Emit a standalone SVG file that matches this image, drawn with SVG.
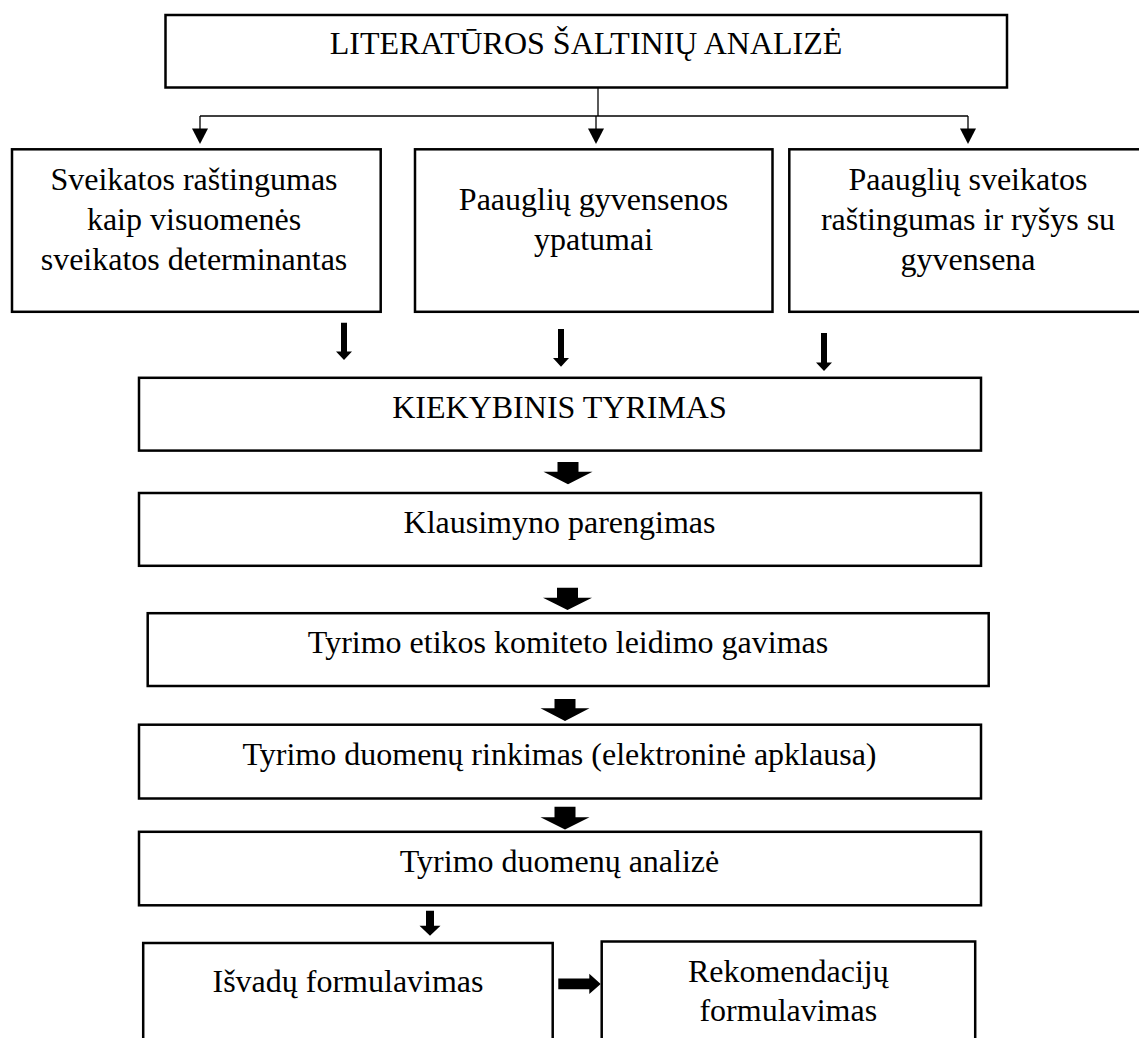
<svg xmlns="http://www.w3.org/2000/svg" width="1139" height="1038" viewBox="0 0 1139 1038">
<style>
  .box { fill: #fff; stroke: #000; stroke-width: 2.5; }
  .t { font-family: "Liberation Serif", "Times New Roman", serif; font-size: 32px; fill: #000; text-anchor: middle; }
  .ln { stroke: #000; stroke-width: 1.3; fill: none; }
  .ah { fill: #000; stroke: none; }
</style>
<rect width="1139" height="1038" fill="#fff"/>

<g id="connectors">
  <line class="ln" x1="598" y1="88" x2="598" y2="116"/>
  <line class="ln" x1="200" y1="116" x2="968" y2="116"/>
  <line class="ln" x1="200" y1="116" x2="200" y2="130"/>
  <polygon class="ah" points="192,128.5 208,128.5 200,144"/>
  <line class="ln" x1="596" y1="116" x2="596" y2="130"/>
  <polygon class="ah" points="588,128.5 604,128.5 596,144"/>
  <line class="ln" x1="968" y1="116" x2="968" y2="130"/>
  <polygon class="ah" points="960,128.5 976,128.5 968,144"/>

  <polygon class="ah" points="341,322.7 347,322.7 347,351.5 352,351.5 344,360 336,351.5 341,351.5"/>
  <polygon class="ah" points="558,329 564,329 564,358 569,358 561,366.7 553,358 558,358"/>
  <polygon class="ah" points="821,333 827,333 827,362.5 832,362.5 824,371 816,362.5 821,362.5"/>

  <polygon class="ah" points="557.5,462 578.5,462 578.5,471.7 592.5,471.7 568,484.3 543.5,471.7 557.5,471.7"/>
  <polygon class="ah" points="557,587.7 578,587.7 578,597.7 592,597.7 567.5,610 543,597.7 557,597.7"/>
  <polygon class="ah" points="554.5,699 575.5,699 575.5,708.3 589.5,708.3 565,721 540.5,708.3 554.5,708.3"/>
  <polygon class="ah" points="554.5,806.7 575.5,806.7 575.5,817.3 589.5,817.3 565,829.5 540.5,817.3 554.5,817.3"/>

  <polygon class="ah" points="426,910.7 434,910.7 434,925.7 440.5,925.7 430,935.7 419.5,925.7 426,925.7"/>
  <polygon class="ah" points="558.3,978.5 589.3,978.5 589.3,973.8 600.7,983.9 589.3,994 589.3,989.3 558.3,989.3"/>
</g>

<g id="n-literatura">
  <rect class="box" x="165.5" y="15" width="841.5" height="72.5"/>
  <text class="t" x="586" y="54">LITERATŪROS ŠALTINIŲ ANALIZĖ</text>
</g>

<g id="n-sveikatos-rastingumas">
  <rect class="box" x="12" y="149.3" width="368.7" height="162.5"/>
  <text class="t" x="194" y="190">Sveikatos raštingumas</text>
  <text class="t" x="194" y="230.3">kaip visuomenės</text>
  <text class="t" x="194" y="270">sveikatos determinantas</text>
</g>

<g id="n-gyvensenos">
  <rect class="box" x="415" y="149.3" width="357.5" height="162.5"/>
  <text class="t" x="593.5" y="210">Paauglių gyvensenos</text>
  <text class="t" x="593.5" y="250">ypatumai</text>
</g>

<g id="n-rysys">
  <rect class="box" x="789.3" y="149.3" width="400" height="162.5"/>
  <text class="t" x="968" y="190">Paauglių sveikatos</text>
  <text class="t" x="968" y="230.3">raštingumas ir ryšys su</text>
  <text class="t" x="968" y="270">gyvensena</text>
</g>

<g id="n-kiekybinis">
  <rect class="box" x="139" y="377.8" width="842" height="72.8"/>
  <text class="t" x="559.5" y="417.7">KIEKYBINIS TYRIMAS</text>
</g>

<g id="n-klausimyno">
  <rect class="box" x="139" y="493" width="842" height="72.8"/>
  <text class="t" x="559.5" y="532.7">Klausimyno parengimas</text>
</g>

<g id="n-etikos">
  <rect class="box" x="147.7" y="613.2" width="841" height="72.8"/>
  <text class="t" x="568" y="653.3">Tyrimo etikos komiteto leidimo gavimas</text>
</g>

<g id="n-rinkimas">
  <rect class="box" x="139" y="724.7" width="842" height="73.8"/>
  <text class="t" x="559.5" y="764.5">Tyrimo duomenų rinkimas (elektroninė apklausa)</text>
</g>

<g id="n-analize">
  <rect class="box" x="139" y="831.8" width="842" height="73.5"/>
  <text class="t" x="559.5" y="871.7">Tyrimo duomenų analizė</text>
</g>

<g id="n-isvadu">
  <rect class="box" x="143.2" y="943" width="409.5" height="200"/>
  <text class="t" x="348" y="991.7">Išvadų formulavimas</text>
</g>

<g id="n-rekomendaciju">
  <rect class="box" x="601.7" y="941.5" width="373.5" height="200"/>
  <text class="t" x="788.3" y="982">Rekomendacijų</text>
  <text class="t" x="788.3" y="1021">formulavimas</text>
</g>
</svg>
